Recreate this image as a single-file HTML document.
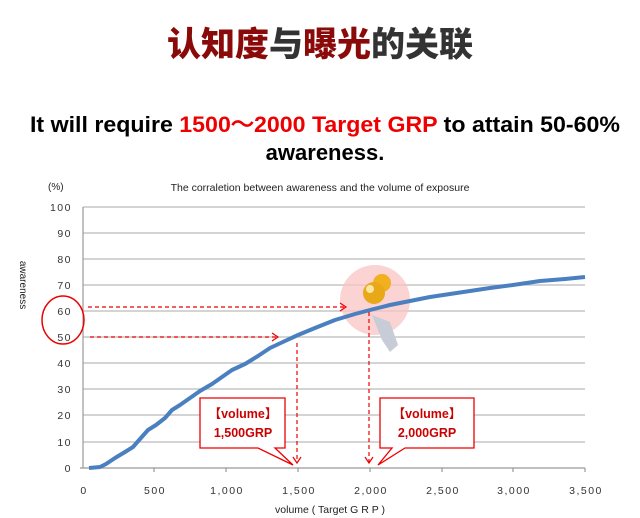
<!DOCTYPE html>
<html><head><meta charset="utf-8"><style>
body{margin:0;background:#fff;width:640px;height:518px;overflow:hidden}
</style></head><body>
<svg width="640" height="518" xmlns="http://www.w3.org/2000/svg" style="display:block">
<text x="320" y="56" text-anchor="middle" font-family="'Noto Sans CJK SC',sans-serif" font-weight="900" font-size="34"><tspan fill="#8a0a0a">认知度</tspan><tspan fill="#333">与</tspan><tspan fill="#8a0a0a">曝光</tspan><tspan fill="#333">的关联</tspan></text>
<text x="325" y="132" text-anchor="middle" font-family="'Liberation Sans',sans-serif" font-weight="bold" font-size="22" fill="#000" textLength="590" lengthAdjust="spacingAndGlyphs">It will require <tspan fill="#e00">1500～2000 Target GRP</tspan> to attain 50-60%</text>
<text x="325" y="160" text-anchor="middle" font-family="'Liberation Sans',sans-serif" font-weight="bold" font-size="22" fill="#000">awareness.</text>
<text x="48" y="190" font-family="'Liberation Sans',sans-serif" font-size="10" fill="#222">(%)</text>
<text x="320" y="191" text-anchor="middle" font-family="'Liberation Sans',sans-serif" font-size="10.5" fill="#222">The corraletion between awareness and the volume of exposure</text>
<g stroke="#bbb" stroke-width="1.2">
<line x1="83" y1="207" x2="585" y2="207"/><line x1="83" y1="233" x2="585" y2="233"/><line x1="83" y1="259" x2="585" y2="259"/><line x1="83" y1="285" x2="585" y2="285"/><line x1="83" y1="311" x2="585" y2="311"/><line x1="83" y1="337" x2="585" y2="337"/><line x1="83" y1="363" x2="585" y2="363"/><line x1="83" y1="389" x2="585" y2="389"/><line x1="83" y1="415" x2="585" y2="415"/><line x1="83" y1="442" x2="585" y2="442"/>
</g>
<g stroke="#999" stroke-width="1.2">
<line x1="83" y1="207" x2="83" y2="468"/><line x1="80" y1="468" x2="585" y2="468"/>
<line x1="154" y1="468" x2="154" y2="472"/><line x1="226" y1="468" x2="226" y2="472"/><line x1="298" y1="468" x2="298" y2="472"/><line x1="370" y1="468" x2="370" y2="472"/><line x1="442" y1="468" x2="442" y2="472"/><line x1="513" y1="468" x2="513" y2="472"/><line x1="585" y1="468" x2="585" y2="472"/>
</g>
<g font-family="'Liberation Sans',sans-serif" font-size="10.5" fill="#333" text-anchor="end" letter-spacing="1.5">
<text x="72" y="211">100</text><text x="72" y="237">90</text><text x="72" y="263">80</text><text x="72" y="289">70</text><text x="72" y="315">60</text><text x="72" y="341">50</text><text x="72" y="367">40</text><text x="72" y="393">30</text><text x="72" y="419">20</text><text x="72" y="446">10</text><text x="72" y="472">0</text>
</g>
<g font-family="'Liberation Sans',sans-serif" font-size="10.5" fill="#333" text-anchor="middle" letter-spacing="1.5">
<text x="84" y="494">0</text><text x="155" y="494">500</text><text x="227" y="494">1,000</text><text x="299" y="494">1,500</text><text x="371" y="494">2,000</text><text x="443" y="494">2,500</text><text x="514" y="494">3,000</text><text x="586" y="494">3,500</text>
</g>
<text x="330" y="513" text-anchor="middle" font-family="'Liberation Sans',sans-serif" font-size="10.5" fill="#222">volume ( Target G R P )</text>
<text transform="translate(20,285) rotate(90)" text-anchor="middle" font-family="'Liberation Sans',sans-serif" font-size="10" fill="#222">awareness</text>
<ellipse cx="63" cy="320" rx="21" ry="24" fill="none" stroke="#e00" stroke-width="1.5"/>
<circle cx="375" cy="300" r="35" fill="#f9c4c4" opacity="0.75"/>
<path d="M372 315 L390 322 L398 345 L390 352 L382 340 Z" fill="#c8ccd6"/>
<polyline fill="none" stroke="#4a7fc0" stroke-width="4" stroke-linejoin="round" points="89,468 100,467 106,464 115,458 125,452 133,447 140,439 148,430 156,425 165,418 172,410 180,405 190,398 200,391 212,384 222,377 232,370 245,364 258,356 270,348 285,341 298,335 315,328 335,320 355,314 370,310 390,305 410,301 430,297 450,294 470,291 490,288 513,285 540,281 565,279 585,277"/>
<circle cx="382" cy="283" r="9" fill="#f0b020"/>
<circle cx="374" cy="293" r="11" fill="#e8a818"/>
<circle cx="370" cy="289" r="4" fill="#fff6c8" opacity="0.8"/>
<g stroke="#e00" stroke-width="1.2" stroke-dasharray="4,3" fill="none">
<line x1="88" y1="307" x2="344" y2="307"/><line x1="90" y1="337" x2="276" y2="337"/>
<line x1="297" y1="343" x2="297" y2="462"/><line x1="369" y1="312" x2="369" y2="462"/>
</g>
<g stroke="#e00" stroke-width="1.2" fill="none">
<polyline points="340,303 346,307 340,311"/><polyline points="272,333 278,337 272,341"/>
<polyline points="293,457 297,463 301,457"/><polyline points="365,457 369,463 373,457"/>
</g>
<g stroke="#e00" stroke-width="1.3" fill="#fff">
<path d="M200 398 H285 V448 H275 L293 465 L258 448 H200 Z"/>
<path d="M380 398 H474 V448 H405 L378 465 L392 448 H380 Z"/>
</g>
<g font-family="'Liberation Sans','Noto Sans CJK SC',sans-serif" font-weight="bold" font-size="12.5" fill="#c00" text-anchor="middle">
<text x="243" y="418">【volume】</text><text x="243" y="437">1,500GRP</text>
<text x="427" y="418">【volume】</text><text x="427" y="437">2,000GRP</text>
</g>
</svg>
</body></html>
